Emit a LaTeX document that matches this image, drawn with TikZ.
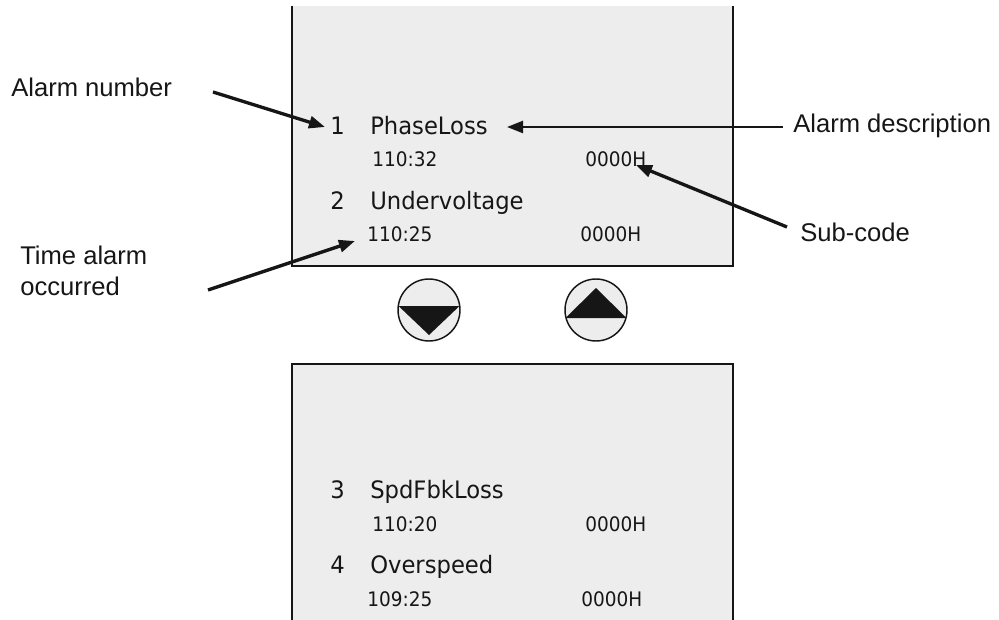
\documentclass[tikz,border=0pt]{standalone}
\usepackage{fontspec}
\newfontfamily\labfont{Liberation Sans}
\newfontfamily\dispfont[FakeStretch=0.945]{DejaVu Sans}
\newfontfamily\smallfont[FakeStretch=0.924]{DejaVu Sans}
\usetikzlibrary{arrows.meta}
\definecolor{panelgray}{HTML}{EDEDED}
\definecolor{ink}{HTML}{161616}
\tikzset{
  panel/.style={fill=panelgray},
  edge/.style={draw=ink, line width=1.5pt},
  big/.style={inner sep=0pt, anchor=base west, text=ink, font=\dispfont\fontsize{18}{21}\selectfont},
  small/.style={inner sep=0pt, anchor=base west, text=ink, font=\smallfont\fontsize{15}{18}\selectfont},
  lab/.style={inner sep=0pt, anchor=base west, text=ink, font=\labfont\fontsize{19.2}{23.3}\selectfont, align=left},
  pointer/.style={draw=ink, line width=2.5pt, -{Triangle[length=12pt, width=9pt]}},
  button/.style={circle, draw=ink, line width=1.1pt, fill=panelgray, minimum size=46.5pt, inner sep=0pt},
}
\begin{document}
\begin{tikzpicture}[x=0.75pt, y=-0.75pt]
\useasboundingbox (0,0) rectangle (999,620);
% top panel
\fill[panel] (292,6) rectangle (733,266);
\draw[edge] (292,6) -- (292,266) -- (733,266) -- (733,6);
% bottom panel
\fill[panel] (292,364) rectangle (733,620);
\draw[edge] (292,620) -- (292,364) -- (733,364) -- (733,620);

% top entries
\node[big] (n1) at (330,135) {1};
\node[big] (d1) at (370,135) {PhaseLoss};
\node[small] (t1) at (372,167) {110:32};
\node[small] (s1) at (585,167) {0000H};
\node[big] (n2) at (330,210) {2};
\node[big] (d2) at (370,210) {Undervoltage};
\node[small] (t2) at (367,242) {110:25};
\node[small] (s2) at (580,242) {0000H};

% bottom entries
\node[big] (n3) at (330,498) {3};
\node[big] (d3) at (370,498) {SpdFbkLoss};
\node[small] (t3) at (372,531) {110:20};
\node[small] (s3) at (585,531) {0000H};
\node[big] (n4) at (330,573) {4};
\node[big] (d4) at (370,573) {Overspeed};
\node[small] (t4) at (367,606) {109:25};
\node[small] (s4) at (581,606) {0000H};

% buttons
\node[button] (down) at (429,310) {};
\node[button] (up) at (596,310) {};
\fill[ink] (398.5,306) -- (459.5,306) -- (429,335) -- cycle;
\fill[ink] (565.5,318) -- (626.5,318) -- (596,288) -- cycle;

% labels
\node[lab] (lnum) at (11,97) {Alarm number};
\node[lab] (ldesc) at (793,133) {Alarm description};
\node[lab] (lsub) at (800,242) {Sub-code};
\node[lab] (ltime) at (20,296) {Time alarm\\occurred};

% pointer ends
\coordinate (anS) at (213,92);
\coordinate (anE) at (325,127);
\coordinate (adS) at (783,127);
\coordinate (adE) at (507,127);
\coordinate (scS) at (787,227);
\coordinate (scE) at (636,165);
\coordinate (taS) at (208,290);
\coordinate (taE) at (355,241);

\draw[pointer] (anS) -- (anE);
\draw[pointer, line width=1.8pt] (adS) -- (adE);
\draw[pointer] (scS) -- (scE);
\draw[pointer] (taS) -- (taE);
\end{tikzpicture}
\end{document}
